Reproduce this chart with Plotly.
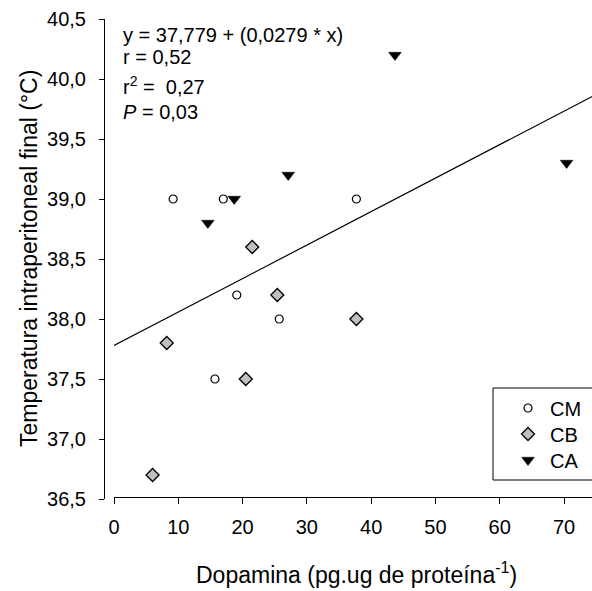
import plotly.graph_objects as go

# ---- data ----
cm_x = [9.2, 17.0, 37.7, 19.1, 25.7, 15.7]
cm_y = [39.0, 39.0, 39.0, 38.2, 38.0, 37.5]
cb_x = [21.5, 25.4, 37.7, 8.2, 20.5, 6.0]
cb_y = [38.6, 38.2, 38.0, 37.8, 37.5, 36.7]
ca_x = [18.7, 27.1, 14.6, 43.7, 70.4]
ca_y = [39.0, 39.2, 38.8, 40.2, 39.3]

intercept = 37.779
slope = 0.0279
fit_x = [0, 80]
fit_y = [intercept + slope * v for v in fit_x]

x_ticks = [0, 10, 20, 30, 40, 50, 60, 70]
y_ticks = [36.5, 37.0, 37.5, 38.0, 38.5, 39.0, 39.5, 40.0, 40.5]
y_tick_text = ["36,5", "37,0", "37,5", "38,0", "38,5", "39,0", "39,5", "40,0", "40,5"]

FONT = "Liberation Sans, Arial, sans-serif"
W, H = 592, 591
ML, MR, MT, MB = 104, 0, 19, 92
PW = W - ML - MR
PH = H - MT - MB


def px(xp):
    return (xp - ML) / PW


def py(yp):
    return (H - MB - yp) / PH


fig = go.Figure()

fig.add_trace(go.Scatter(
    x=fit_x, y=fit_y, mode="lines", showlegend=False,
    line=dict(color="black", width=1.2), hoverinfo="skip"))

fig.add_trace(go.Scatter(
    x=cm_x, y=cm_y, mode="markers", name="CM", legend="legend",
    marker=dict(symbol="circle", size=8, color="white",
                line=dict(color="black", width=1.2))))
fig.add_trace(go.Scatter(
    x=cb_x, y=cb_y, mode="markers", name="CB", legend="legend2",
    marker=dict(symbol="diamond", size=10, color="#c0c0c0",
                line=dict(color="black", width=1.3))))
fig.add_trace(go.Scatter(
    x=ca_x, y=ca_y, mode="markers", name="CA", legend="legend3",
    marker=dict(symbol="triangle-down", size=11, color="black",
                line=dict(color="black", width=0.5))))

annos = [
    dict(text="y = 37,779 + (0,0279 * x)", y=35),
    dict(text="r = 0,52", y=57),
    dict(text="r<sup>2</sup> =  0,27", y=86),
    dict(text="<i>P</i> = 0,03", y=112),
]
for a in annos:
    fig.add_annotation(
        x=px(121), y=py(a["y"]), xref="paper", yref="paper",
        xanchor="left", yanchor="middle", text=a["text"], showarrow=False,
        font=dict(family=FONT, size=20, color="black"))

# axis titles
fig.add_annotation(
    x=px(356), y=py(573), xref="paper", yref="paper",
    xanchor="center", yanchor="middle", showarrow=False,
    text="Dopamina (pg.ug de proteína<sup>-1</sup>)",
    font=dict(family=FONT, size=23, color="black"))
fig.add_annotation(
    x=px(29), y=py(259), xref="paper", yref="paper",
    xanchor="center", yanchor="middle", showarrow=False, textangle=-90,
    text="Temperatura intraperitoneal final (°C)",
    font=dict(family=FONT, size=23, color="black"))

# legend frame
fig.add_shape(type="rect", xref="paper", yref="paper",
              x0=px(493), x1=1.1, y0=py(480), y1=py(388),
              line=dict(color="black", width=1), fillcolor="rgba(0,0,0,0)")


def leg(row_y):
    return dict(x=px(506), y=py(row_y), xanchor="left", yanchor="middle",
                bgcolor="rgba(0,0,0,0)", borderwidth=0, itemwidth=34,
                font=dict(family=FONT, size=20, color="black"))


fig.update_layout(
    width=W, height=H,
    margin=dict(l=ML, r=MR, t=MT, b=MB, pad=0),
    paper_bgcolor="white", plot_bgcolor="white",
    font=dict(family=FONT, size=20, color="black"),
    legend=leg(408), legend2=leg(434), legend3=leg(460),
    xaxis=dict(range=[0, 74.35], domain=[10 / PW, 1], anchor="free",
               position=0.005,
               tickvals=x_ticks, ticks="outside", ticklen=6,
               tickcolor="black", tickwidth=1, ticklabelstandoff=6,
               showline=True, linecolor="black", linewidth=1,
               showgrid=False, zeroline=False,
               tickfont=dict(family=FONT, size=20, color="black")),
    yaxis=dict(range=[36.5, 40.5], domain=[0, 1], anchor="free", position=0,
               tickvals=y_ticks, ticktext=y_tick_text, ticks="outside",
               ticklen=5, tickcolor="black", tickwidth=1, ticklabelstandoff=9,
               showline=True, linecolor="black", linewidth=1,
               showgrid=False, zeroline=False,
               tickfont=dict(family=FONT, size=20, color="black")),
)

fig.write_html("out.html")
